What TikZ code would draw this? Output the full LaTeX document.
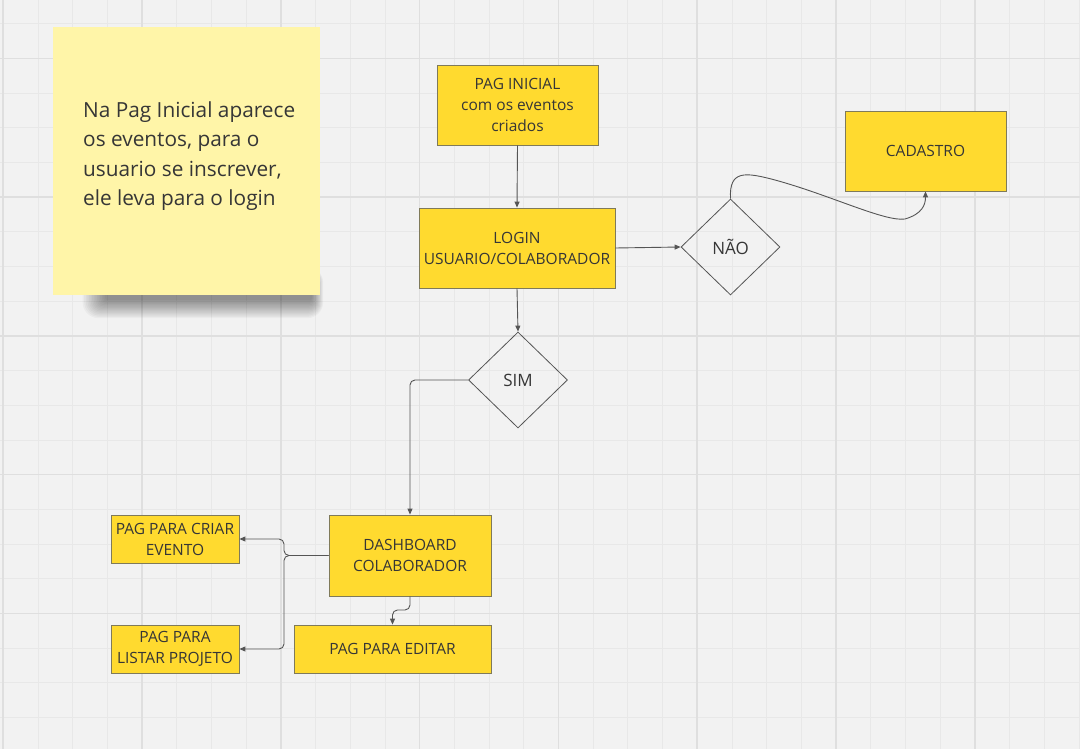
\documentclass[tikz,border=0pt]{standalone}
\usepackage{fontspec}
\setmainfont{Open Sans}
\usetikzlibrary{arrows.meta, shapes.geometric}
\definecolor{bg}{HTML}{F2F2F2}
\definecolor{gminor}{HTML}{E8E8E8}
\definecolor{gmajor}{HTML}{DFDFDF}
\definecolor{boxfill}{HTML}{FFDA2F}
\definecolor{boxline}{HTML}{7F7A5A}
\definecolor{notefill}{HTML}{FFF5A8}
\definecolor{txt}{HTML}{363636}
\definecolor{conn}{HTML}{555555}
\tikzset{
  boxnode/.style={draw=boxline, fill=boxfill, line width=0.8pt, align=center, inner sep=0pt, text=txt, font=\fontsize{15.5}{21}\selectfont},
  decision/.style={diamond, draw=conn, line width=0.8pt, inner sep=0pt, text=txt, font=\fontsize{17}{20}\selectfont, minimum width=99pt, minimum height=96pt},
  link/.style={draw=conn, line width=0.9pt, -{Triangle[length=6pt,width=5pt]}, rounded corners=5pt},
}
\begin{document}
\begin{tikzpicture}[x=1pt,y=-1pt]
\fill[bg] (0,0) rectangle (1080,749);
\useasboundingbox (0,0) rectangle (1080,749);
% grid
\foreach \i in {0,...,31} { \draw[gminor, line width=0.8pt] ({3.2+\i*34.7},0) -- ({3.2+\i*34.7},749); }
\foreach \j in {-1,...,21} { \draw[gminor, line width=0.8pt] (0,{23.8+\j*34.68}) -- (1080,{23.8+\j*34.68}); }
\foreach \i in {0,4,...,28} { \draw[gmajor, line width=1.6pt] ({3.2+\i*34.7},0) -- ({3.2+\i*34.7},749); }
\foreach \j in {1,5,...,21} { \draw[gmajor, line width=1.6pt] (0,{23.8+\j*34.68}) -- (1080,{23.8+\j*34.68}); }
% sticky note shadow (manual blur)
\foreach \k in {0,...,14} {
  \fill[black, opacity=0.03, rounded corners={\k*1pt+2pt}] ({105-\k*1.6},{278-\k*0.8}) rectangle ({312+\k*0.8},{300+\k*1.3});
}
\node[fill=notefill, minimum width=267pt, minimum height=268pt, inner sep=0pt] (note) at (186.5,161) {};
\node[anchor=north west, inner sep=0pt, align=left, text=txt, font=\fontsize{20.8}{29.4}\selectfont] (notetext) at (83,101.5) {Na Pag Inicial aparece\\os eventos, para o\\usuario se inscrever,\\ele leva para o login};
% boxes
\node[boxnode, minimum width=161pt, minimum height=80pt] (ini) at (517.5,105) {PAG INICIAL\\com os eventos\\criados};
\node[boxnode, minimum width=196pt, minimum height=80pt] (login) at (517,248) {LOGIN\\USUARIO/COLABORADOR};
\node[decision] (nao) at (730.5,247) {NÃO};
\node[boxnode, minimum width=161pt, minimum height=80pt] (cad) at (925.5,151) {CADASTRO};
\node[decision] (sim) at (518,380) {SIM};
\node[boxnode, minimum width=162pt, minimum height=81pt] (dash) at (410,555.5) {DASHBOARD\\COLABORADOR};
\node[boxnode, minimum width=128pt, minimum height=48pt] (criar) at (175,539) {PAG PARA CRIAR\\EVENTO};
\node[boxnode, minimum width=128pt, minimum height=48pt] (listar) at (175,649) {PAG PARA\\LISTAR PROJETO};
\node[boxnode, minimum width=197pt, minimum height=48pt] (editar) at (392.5,649) {PAG PARA EDITAR};
% connectors
\draw[link] (ini.south) -- (login.north);
\draw[link] (login.east) -- (nao.west);
\draw[link] (login.south) -- (sim.north);
\draw[link, rounded corners=0pt] (nao.north) .. controls (729,170) and (745,172) .. (775,180)
   .. controls (830,195) and (885,222) .. (905,219)
   .. controls (922,214) and (925.5,205) .. (cad.south);
\draw[link] (sim.west) -| (dash.north);
\draw[link] (dash.west) -- (284,555.5) |- (criar.east);
\draw[link] (dash.west) -- (284,555.5) |- (listar.east);
\draw[link] (dash.south) -- (410,610) -| (editar.north);
\end{tikzpicture}
\end{document}
